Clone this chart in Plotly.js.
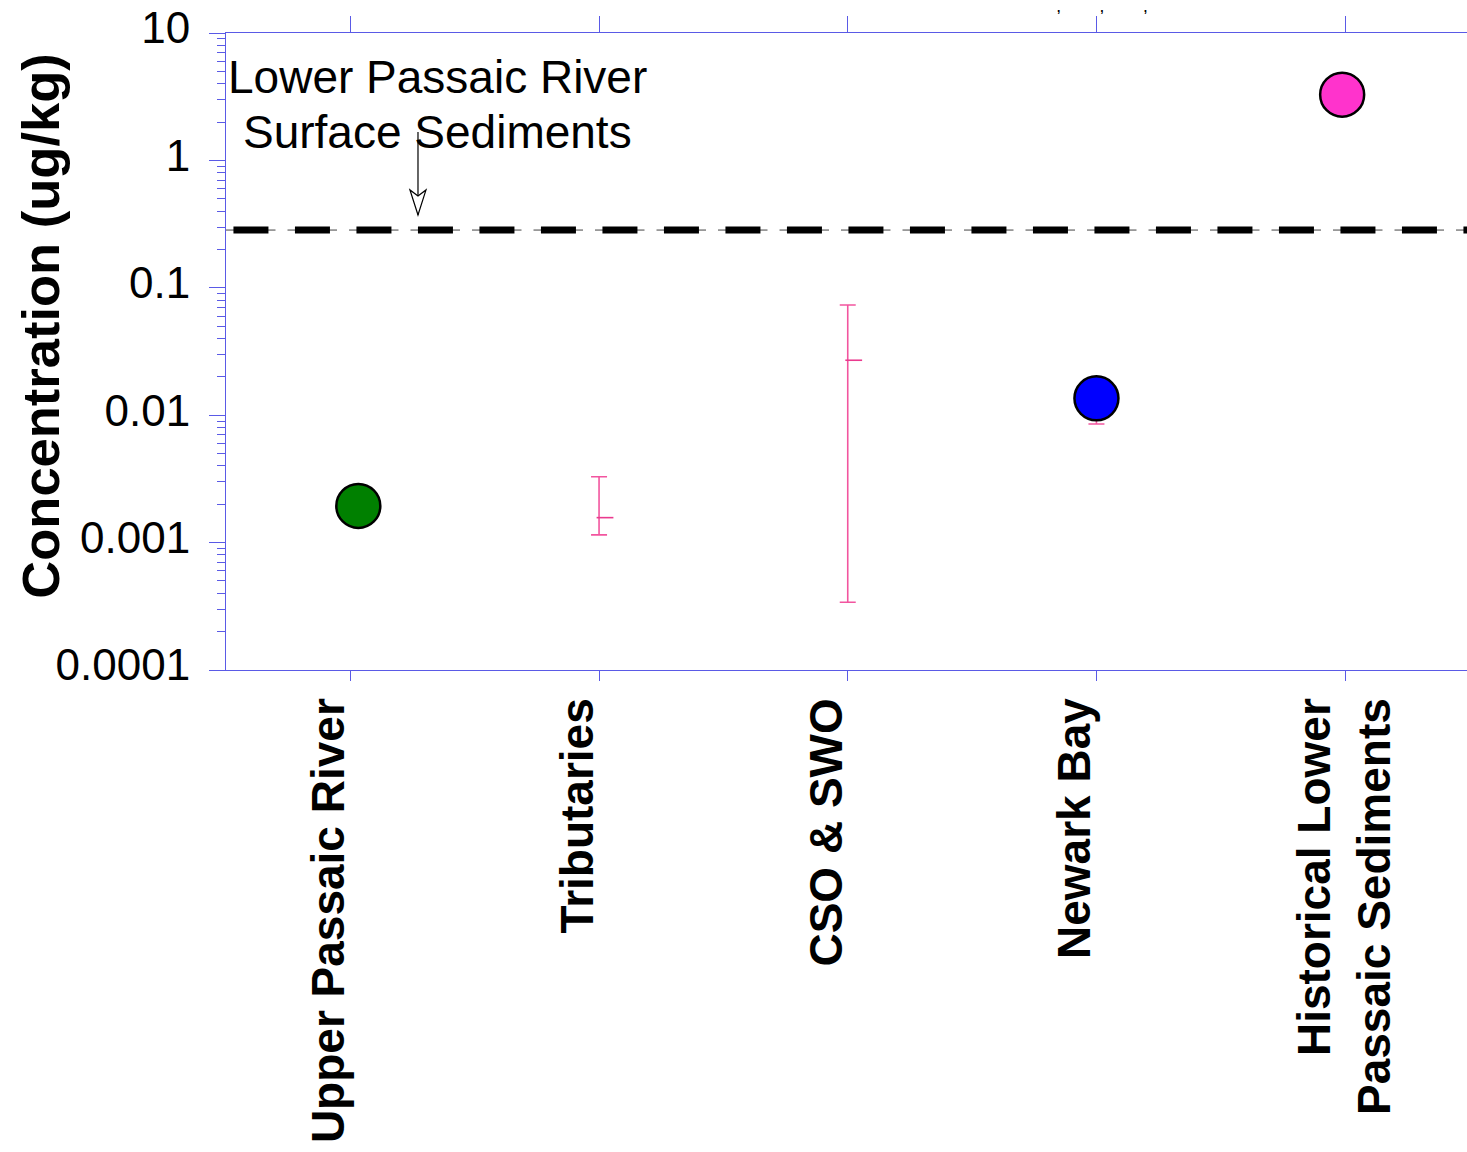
<!DOCTYPE html>
<html>
<head>
<meta charset="utf-8">
<script src="https://cdn.plot.ly/plotly-3.0.1.min.js"></script>
<style>
html,body{margin:0;padding:0;background:#fff;}
#chart{width:1467px;height:1152px;}
</style>
</head>
<body>
<div id="chart"></div>
<script>
// ---- data ----
const categories = ['Upper Passaic River', 'Tributaries', 'CSO & SWO', 'Newark Bay', 'Historical Lower Passaic Sediments'];
const tickLabels = ['Upper Passaic River', 'Tributaries', 'CSO & SWO', 'Newark Bay', 'Historical Lower<br>Passaic Sediments'];

// single-value sources (circles)
const pointCats = ['Upper Passaic River', 'Newark Bay', 'Historical Lower Passaic Sediments'];
const pointValues = [0.00194, 0.01356, 3.28];

// ranged sources (error bars): central value, upper and lower bound
const rangeCats = ['Tributaries', 'CSO & SWO', 'Newark Bay'];
const rangeMid = [0.00157, 0.027, 0.01356];
const rangeHigh = [0.00329, 0.0733, 0.01356];
const rangeLow = [0.00115, 0.00034, 0.00853];

// reference level: Lower Passaic River surface sediments
const surfaceLevel = 0.284;
const refLabelLines = ['Lower Passaic River', 'Surface Sediments'];

const yTickVals = [0.0001, 0.001, 0.01, 0.1, 1, 10];
const yTickText = ['0.0001', '0.001', '0.01', '0.1', '1', '10'];

// ---- styling ----
const pointColors = ['#008000', '#0000ff', '#ff33cc'];
const pointOffset = [0.032, 0, -0.012];
const axisColor = '#5a5ae6';
const errColor = '#f2559f';
const FONT = 'Liberation Sans, Arial, Helvetica, sans-serif';

const idx = c => categories.indexOf(c);

const minorVals = [];
for (let e = -4; e < 1; e++) {
  for (let m = 2; m <= 9; m++) minorVals.push(m * Math.pow(10, e));
}
// single-line labels sit a little left of their tick in the original
const labelPos = tickLabels.map((t, i) => i + (t.indexOf('<br>') >= 0 ? 0 : -0.084));

const traces = [
  {
    type: 'scatter', mode: 'markers',
    x: rangeCats.map(idx),
    y: rangeMid,
    marker: {size: 1, color: 'rgba(0,0,0,0)'},
    error_y: {
      type: 'data', symmetric: false,
      array: rangeHigh.map((h, i) => h - rangeMid[i]),
      arrayminus: rangeLow.map((l, i) => rangeMid[i] - l),
      color: errColor, thickness: 1.6, width: 8
    },
    showlegend: false, hoverinfo: 'skip'
  },
  {
    type: 'scatter', mode: 'markers',
    x: rangeCats.map(c => idx(c) + 0.024),
    y: rangeMid,
    marker: {symbol: 'line-ew-open', size: 12, color: '#ea3a8e', line: {color: '#ea3a8e', width: 1.6}},
    showlegend: false, hoverinfo: 'skip'
  },
  {
    type: 'scatter', mode: 'markers',
    x: pointCats.map((c, i) => idx(c) + pointOffset[i]),
    y: pointValues,
    marker: {size: 44, color: pointColors, line: {color: '#000', width: 2.5}},
    showlegend: false
  },
  {
    type: 'scatter', mode: 'markers', x: [0], y: [1], xaxis: 'x2', yaxis: 'y',
    marker: {size: 1, color: 'rgba(0,0,0,0)'}, showlegend: false, hoverinfo: 'skip'
  },
  {
    type: 'scatter', mode: 'markers', x: [0], y: [1], xaxis: 'x3', yaxis: 'y',
    marker: {size: 1, color: 'rgba(0,0,0,0)'}, showlegend: false, hoverinfo: 'skip'
  }
];

const layout = {
  width: 1467, height: 1152,
  margin: {l: 226, r: 0, t: 33, b: 482},
  paper_bgcolor: '#fff', plot_bgcolor: '#fff',
  font: {family: FONT, color: '#000'},
  showlegend: false,
  xaxis: {
    range: [-0.5, 4.49], tickmode: 'array',
    tickvals: categories.map(idx), showticklabels: false,
    ticks: 'outside', ticklen: 10, tickcolor: axisColor, tickwidth: 1,
    showline: true, linecolor: axisColor, linewidth: 1,
    showgrid: false, zeroline: false, fixedrange: true
  },
  xaxis2: {
    overlaying: 'x', side: 'top', matches: 'x', anchor: 'y',
    tickmode: 'array', tickvals: categories.map(idx), showticklabels: false,
    ticks: 'outside', ticklen: 16, tickcolor: axisColor, tickwidth: 1,
    showline: true, linecolor: axisColor, linewidth: 1,
    showgrid: false, zeroline: false
  },
  xaxis3: {
    overlaying: 'x', side: 'bottom', matches: 'x', anchor: 'y',
    tickmode: 'array', tickvals: labelPos, ticktext: tickLabels,
    tickangle: -90,
    tickfont: {family: FONT, size: 46, color: '#000', weight: 'bold'},
    ticks: '', ticklabelstandoff: 18,
    showline: false, showgrid: false, zeroline: false
  },
  yaxis: {
    type: 'log', range: [-4, 1],
    tickmode: 'array', tickvals: yTickVals, ticktext: yTickText,
    tickfont: {family: FONT, size: 44, color: '#000'},
    ticks: 'outside', ticklen: 16, tickcolor: axisColor, tickwidth: 1,
    minor: {tickmode: 'array', tickvals: minorVals, ticks: 'outside', ticklen: 8, tickcolor: axisColor, tickwidth: 1, showgrid: false},
    ticklabelstandoff: 10, ticklabelshift: -5,
    showline: true, linecolor: axisColor, linewidth: 1,
    showgrid: false, zeroline: false, fixedrange: true
  },
  shapes: [
    {type: 'line', xref: 'paper', yref: 'y', x0: 0, x1: 1, y0: surfaceLevel, y1: surfaceLevel,
     line: {color: '#444', width: 1, dash: '49.5px,12px'}},
    {type: 'line', xref: 'paper', yref: 'y', x0: 0.006, x1: 1, y0: surfaceLevel, y1: surfaceLevel,
     line: {color: '#000', width: 7, dash: '35px,26.5px'}},
    // arrow shaft
    {type: 'line', xref: 'x', yref: 'y', xsizemode: 'pixel', ysizemode: 'pixel',
     xanchor: 0.272, yanchor: 0.373, x0: 0, x1: 0, y0: 0, y1: 83,
     line: {color: '#000', width: 1.2}},
    // open arrow head
    {type: 'path', xref: 'x', yref: 'y', xsizemode: 'pixel', ysizemode: 'pixel',
     xanchor: 0.272, yanchor: 0.373,
     path: 'M -8 25 L 0 0 L 8 25 L 0 19 Z',
     fillcolor: '#fff', line: {color: '#000', width: 1.2}}
  ],
  annotations: [
    {xref: 'paper', yref: 'paper', x: 0, y: 0.539, xshift: -185, xanchor: 'center', yanchor: 'middle',
     text: 'Concentration (ug/kg)', textangle: -90, showarrow: false,
     font: {family: FONT, size: 52.5, color: '#000', weight: 'bold'}},
    {xref: 'paper', yref: 'paper', x: 0.1708, y: 0.931, xanchor: 'center', yanchor: 'middle',
     text: refLabelLines[0], showarrow: false,
     font: {family: FONT, size: 46, color: '#000'}},
    {xref: 'paper', yref: 'paper', x: 0.1708, y: 0.844, xanchor: 'center', yanchor: 'middle',
     text: refLabelLines[1], showarrow: false,
     font: {family: FONT, size: 46, color: '#000'}},
    {xref: 'paper', yref: 'paper', x: 0.669, y: 1.0515, xanchor: 'left', yanchor: 'top',
     text: ',            ,            ,', showarrow: false, borderpad: 0,
     font: {family: FONT, size: 12, color: '#000', weight: 'bold'}}
  ]
};

Plotly.newPlot('chart', traces, layout, {displayModeBar: false, staticPlot: true});
</script>
</body>
</html>
